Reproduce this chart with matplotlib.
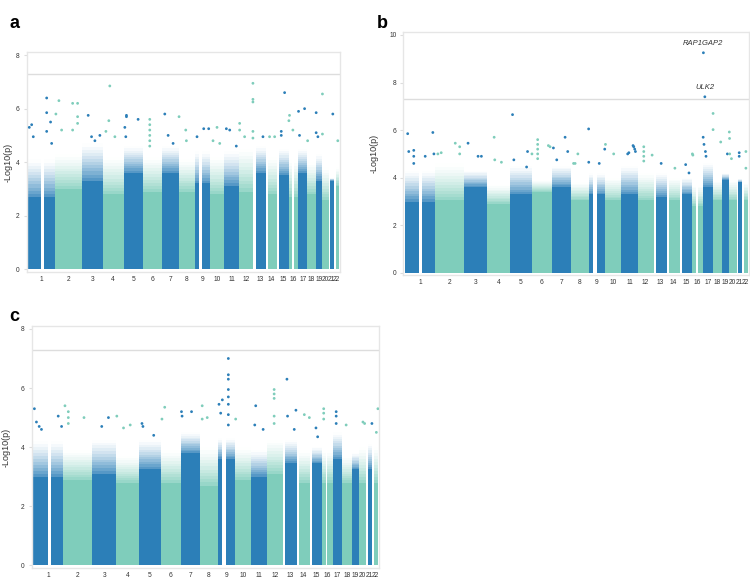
import matplotlib
matplotlib.use("Agg")
import matplotlib.pyplot as plt
from matplotlib.colors import to_rgb

plt.rcParams['font.family'] = ['Liberation Sans', 'DejaVu Sans']

# chromosome lengths (Mb) and visible gaps (centromere / acrocentric arms)
chrom_len = [249.3, 243.2, 198.0, 191.2, 180.9, 171.1, 159.1, 146.4, 141.2, 135.5, 135.0,
             133.9, 115.2, 107.3, 102.5, 90.4, 81.2, 78.1, 59.1, 63.0, 48.1, 51.3]
chrom_gaps = {1: (121, 143), 9: (39, 68), 13: (0, 19), 14: (0, 17), 15: (0, 18),
              16: (35, 46), 21: (0, 10), 22: (0, 16)}

# panel a: dense-cloud height (solid part / ragged top) per chromosome, plus top hits
a_core = [2.7, 3.0, 3.3, 2.8, 3.6, 2.9, 3.6, 2.9, 3.2, 2.8, 3.1, 2.9, 3.6, 2.8, 3.5, 2.7, 3.6, 2.8, 3.3, 2.6, 3.3, 3.1]
a_top = [4.1, 4.3, 4.7, 4.2, 4.6, 4.2, 4.6, 4.1, 4.4, 4.2, 4.4, 4.5, 4.6, 4.2, 4.5, 4.1, 4.5, 4.0, 4.3, 3.8, 3.4, 3.8]
a_hits = [(1, 9, 5.3), (1, 31, 5.4), (1, 46, 4.95), (1, 170, 6.4), (1, 170, 5.85), (1, 170, 5.15),
          (1, 206, 5.5), (1, 216, 4.7), (2, 6, 5.8), (2, 34, 6.3), (2, 59, 5.2), (2, 161, 6.2),
          (2, 161, 5.2), (2, 207, 6.2), (2, 207, 5.7), (2, 207, 5.45), (3, 62, 5.75), (3, 93, 4.95),
          (3, 124, 4.8), (3, 170, 5.0), (4, 28, 5.15), (4, 55, 5.55), (4, 64, 6.85), (4, 111, 4.95),
          (5, 12, 5.3), (5, 21, 4.95), (5, 27, 5.75), (5, 27, 5.7), (5, 135, 5.6), (6, 62, 5.6),
          (6, 62, 5.4), (6, 62, 5.2), (6, 62, 5.0), (6, 62, 4.8), (6, 62, 4.6), (7, 30, 5.8),
          (7, 61, 5.0), (7, 107, 4.7), (8, 3, 5.7), (8, 65, 5.2), (8, 71, 4.8), (9, 23, 4.95),
          (9, 85, 5.25), (9, 131, 5.25), (10, 30, 4.8), (10, 67, 5.3), (10, 92, 4.7), (11, 18, 5.25),
          (11, 49, 5.2), (11, 110, 4.6), (12, 6, 5.45), (12, 6, 5.2), (12, 52, 4.95), (12, 129, 6.95),
          (12, 129, 6.35), (12, 129, 6.25), (12, 129, 5.15), (12, 129, 4.9), (13, 88, 4.95),
          (14, 34, 4.95), (14, 81, 4.95), (15, 35, 5.15), (15, 35, 5.0), (15, 66, 6.6), (16, 3, 5.55),
          (16, 9, 5.75), (16, 40, 5.2), (17, 2, 5.9), (17, 11, 5.0), (17, 58, 6.0), (18, 5, 4.8),
          (19, 6, 5.85), (19, 6, 5.1), (19, 22, 4.95), (20, 5, 6.55), (20, 5, 5.05), (21, 38, 5.8),
          (22, 36, 4.8)]

# panel b
b_core = [3.0, 3.05, 3.6, 2.9, 3.3, 3.4, 3.6, 3.05, 3.3, 3.05, 3.3, 3.05, 3.2, 3.05, 3.3, 2.8, 3.6, 3.05, 3.9, 3.05, 3.8, 3.05]
b_top = [4.3, 4.6, 4.3, 3.7, 4.5, 3.9, 4.5, 3.8, 4.2, 4.0, 4.5, 4.2, 4.2, 4.0, 4.0, 3.7, 4.6, 3.9, 4.2, 3.9, 3.95, 3.8]
b_hits = [(1, 22, 5.85), (1, 31, 5.1), (1, 73, 5.15), (1, 73, 4.9), (1, 73, 4.6), (1, 169, 4.9),
          (1, 233, 5.9), (1, 242, 5.0), (2, 26, 5.0), (2, 54, 5.05), (2, 172, 5.45), (2, 209, 5.3),
          (2, 209, 5.0), (3, 36, 5.45), (3, 120, 4.9), (3, 148, 4.9), (4, 57, 5.7), (4, 62, 4.75),
          (4, 118, 4.65), (5, 20, 6.65), (5, 31, 4.75), (5, 138, 4.45), (5, 146, 5.1), (6, 2, 5.0),
          (6, 50, 5.6), (6, 50, 5.4), (6, 50, 5.2), (6, 50, 5.0), (6, 50, 4.8), (6, 140, 5.35),
          (6, 154, 5.3), (7, 11, 5.25), (7, 39, 4.75), (7, 109, 5.7), (7, 131, 5.1), (8, 21, 4.6),
          (8, 34, 4.6), (8, 57, 5.0), (9, 1, 6.05), (9, 2, 4.65), (9, 90, 4.6), (9, 136, 5.2),
          (10, 1, 5.4), (10, 70, 5.0), (11, 52, 5.0), (11, 62, 5.05), (11, 97, 5.35), (11, 103, 5.3),
          (11, 111, 5.2), (11, 117, 5.1), (12, 52, 5.3), (12, 52, 5.1), (12, 52, 4.9), (12, 52, 4.7),
          (12, 122, 4.95), (13, 64, 4.6), (14, 64, 4.4), (15, 47, 4.55), (15, 75, 4.2), (16, 1, 5.0),
          (16, 5, 4.95), (17, 3, 9.25), (17, 15, 7.4), (17, 1, 5.7), (17, 8, 5.4), (17, 20, 5.1),
          (17, 25, 4.9), (18, 3, 6.7), (18, 3, 6.02), (18, 67, 5.5), (19, 45, 5.0), (20, 2, 5.92),
          (20, 4, 5.65), (20, 5, 5.0), (20, 20, 4.8), (21, 22, 5.05), (21, 22, 4.9), (22, 30, 5.1),
          (22, 30, 4.4)]
b_genes = [('RAP1GAP2', 17, 3, 9.5), ('ULK2', 17, 15, 7.65)]

# panel c
c_core = [3.0, 2.9, 3.1, 2.8, 3.25, 2.8, 3.8, 2.7, 3.6, 2.9, 3.0, 3.1, 3.45, 2.8, 3.45, 2.8, 3.6, 2.8, 3.25, 2.8, 3.25, 2.8]
c_top = [4.2, 3.9, 4.25, 3.7, 4.25, 3.9, 4.5, 4.0, 4.3, 4.0, 3.9, 4.25, 4.25, 3.9, 4.0, 3.9, 4.5, 3.7, 3.8, 4.0, 4.1, 4.0]
c_hits = [(1, 8, 5.3), (1, 25, 4.85), (1, 48, 4.7), (1, 67, 4.6), (1, 207, 5.05), (1, 235, 4.7),
          (2, 14, 5.4), (2, 42, 5.2), (2, 42, 5.0), (2, 42, 4.8), (2, 173, 5.0), (3, 78, 4.7),
          (3, 134, 5.0), (4, 6, 5.05), (4, 62, 4.65), (4, 118, 4.75), (5, 25, 4.8), (5, 33, 4.7),
          (5, 123, 4.4), (6, 11, 4.95), (6, 34, 5.35), (7, 3, 5.2), (7, 8, 5.05), (7, 87, 5.2),
          (8, 17, 5.4), (8, 17, 4.95), (8, 59, 5.0), (9, 11, 5.45), (9, 25, 5.15), (9, 39, 5.6),
          (9, 89, 7.0), (9, 89, 6.45), (9, 89, 6.3), (9, 89, 5.95), (9, 89, 5.7), (9, 89, 5.45),
          (9, 89, 5.1), (9, 89, 4.75), (10, 9, 4.95), (11, 33, 4.75), (11, 41, 5.4), (11, 103, 4.6),
          (12, 60, 5.95), (12, 60, 5.8), (12, 60, 5.65), (12, 60, 5.05), (12, 60, 4.8), (13, 33, 6.3),
          (13, 38, 5.05), (13, 94, 4.6), (13, 108, 5.25), (14, 63, 5.1), (14, 105, 5.0), (15, 53, 4.65),
          (15, 67, 4.35), (16, 15, 5.3), (16, 15, 5.15), (16, 15, 4.95), (17, 29, 5.2), (17, 29, 5.05),
          (17, 29, 4.8), (18, 31, 4.75), (20, 34, 4.85), (20, 48, 4.8), (21, 46, 4.8), (22, 35, 4.5),
          (22, 48, 5.3)]

DARK = '#2c7fb8'
LIGHT = '#7fcdbb'
threshold = 7.3
n_fade = 12  # the point cloud thins out between the solid part and the top


def tint(col, a):
    r, g, b = to_rgb(col)
    return (1 - a + a * r, 1 - a + a * g, 1 - a + a * b)


offsets = []
tot = 0
for L in chrom_len:
    offsets.append(tot)
    tot += L


def segments(c):
    start = offsets[c - 1]
    L = chrom_len[c - 1]
    if c not in chrom_gaps:
        return [(start, start + L)]
    g0, g1 = chrom_gaps[c]
    segs = []
    if g0 > 0:
        segs.append((start, start + g0))
    segs.append((start + g1, start + L))
    return segs


def manhattan(ax, core, top, hits, ymax, yticks, label_x):
    for c in range(1, 23):
        col = DARK if c % 2 else LIGHT
        lo, hi = core[c - 1], top[c - 1]
        step = (hi - lo) / n_fade
        for x0, x1 in segments(c):
            # each band overlaps the ones above it, so no pixel gaps appear between them
            for k in range(n_fade):
                a = 0.85 * (1 - (k + 0.5) / n_fade) ** 1.4
                ax.fill_between([x0, x1], lo + k * step, hi, color=tint(col, a),
                                lw=0, antialiased=False)
            ax.fill_between([x0, x1], 0, lo, color=col, lw=0, antialiased=False)
    xs = [offsets[h[0] - 1] + h[1] for h in hits]
    ys = [h[2] for h in hits]
    cs = [DARK if h[0] % 2 else LIGHT for h in hits]
    ax.scatter(xs, ys, s=4, c=cs, lw=0, zorder=3)
    ax.axhline(threshold, color='#dddddd', lw=1, zorder=1)
    ax.set_xlim(-15, tot + 5)
    ax.set_ylim(-0.1, ymax)
    ax.set_yticks(yticks)
    ax.set_xticks([offsets[i] + chrom_len[i] / 2 for i in range(22)])
    ax.set_xticklabels([str(i + 1) for i in range(22)])
    ax.tick_params(axis='both', labelsize=4.8, length=0, pad=3, colors='#333333')
    ax.tick_params(axis='y', length=2, color='#dddddd')
    for sp in ax.spines.values():
        sp.set_color('#e6e6e6')
        sp.set_linewidth(1)
    ax.set_ylabel('-Log10(p)', fontsize=6.5, color='#333333')
    ax.yaxis.set_label_coords(label_x, 0.5)


fig = plt.figure(figsize=(7.5, 5.81), dpi=100)
ax_a = fig.add_axes([0.0356, 0.5324, 0.4177, 0.3776])
ax_b = fig.add_axes([0.5377, 0.5262, 0.4610, 0.4182])
ax_c = fig.add_axes([0.0422, 0.0219, 0.4630, 0.4170])

manhattan(ax_a, a_core, a_top, a_hits, 8.11, [0, 2, 4, 6, 8], -0.045)
manhattan(ax_b, b_core, b_top, b_hits, 10.11, [0, 2, 4, 6, 8, 10], -0.07)
manhattan(ax_c, c_core, c_top, c_hits, 8.1, [0, 2, 4, 6, 8], -0.062)

for name, c, pos, y in b_genes:
    ax_b.text(offsets[c - 1] + pos, y, name, fontsize=5.5, style='italic', color='#333333',
              ha='center', va='bottom')

fig.text(0.013, 0.975, 'a', fontsize=13, fontweight='bold', va='top')
fig.text(0.503, 0.975, 'b', fontsize=13, fontweight='bold', va='top')
fig.text(0.013, 0.47, 'c', fontsize=13, fontweight='bold', va='top')

fig.savefig('out.png', dpi=100)
